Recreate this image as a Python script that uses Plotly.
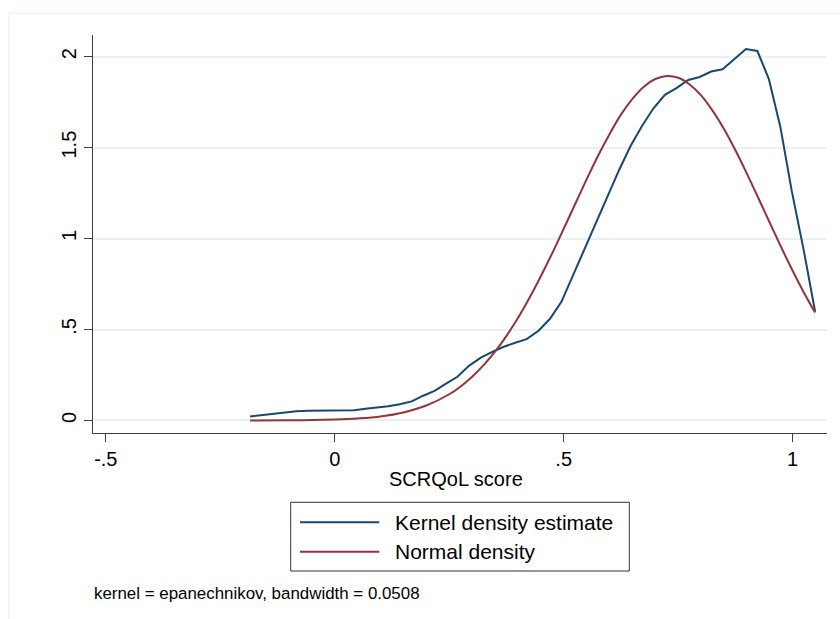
import plotly.graph_objects as go

# ---- data ----
kde_x = [-0.185, -0.160, -0.135, -0.109, -0.084, -0.059, -0.034, -0.009, 0.016, 0.042,
         0.067, 0.092, 0.117, 0.142, 0.168, 0.193, 0.218, 0.243, 0.268, 0.293,
         0.319, 0.344, 0.369, 0.394, 0.419, 0.445, 0.470, 0.495, 0.520, 0.545,
         0.570, 0.596, 0.621, 0.646, 0.671, 0.696, 0.721, 0.747, 0.772, 0.797,
         0.822, 0.847, 0.873, 0.898, 0.923, 0.948, 0.973, 0.998, 1.024, 1.049]
kde_y = [0.022, 0.029, 0.037, 0.045, 0.050, 0.053, 0.053, 0.052, 0.052, 0.056,
         0.064, 0.070, 0.078, 0.089, 0.105, 0.136, 0.163, 0.202, 0.240, 0.300,
         0.345, 0.377, 0.405, 0.427, 0.447, 0.493, 0.559, 0.652, 0.795, 0.938,
         1.080, 1.229, 1.377, 1.509, 1.619, 1.716, 1.790, 1.828, 1.872, 1.888,
         1.918, 1.931, 1.987, 2.042, 2.031, 1.877, 1.615, 1.262, 0.938, 0.599]

norm_x = [-0.185, -0.100, -0.050, 0.000, 0.050, 0.100, 0.150, 0.200, 0.250, 0.275,
          0.300, 0.325, 0.350, 0.375, 0.400, 0.425, 0.450, 0.475, 0.500, 0.525,
          0.550, 0.575, 0.600, 0.625, 0.650, 0.675, 0.700, 0.725, 0.750, 0.775,
          0.800, 0.825, 0.850, 0.875, 0.900, 0.925, 0.950, 0.975, 1.000, 1.025, 1.049]
norm_y = [0.000, 0.001, 0.002, 0.005, 0.011, 0.022, 0.044, 0.082, 0.144, 0.187,
          0.240, 0.304, 0.378, 0.465, 0.563, 0.673, 0.793, 0.920, 1.054, 1.190,
          1.325, 1.455, 1.574, 1.681, 1.768, 1.835, 1.877, 1.894, 1.884, 1.847,
          1.787, 1.703, 1.602, 1.485, 1.357, 1.223, 1.087, 0.952, 0.823, 0.701, 0.593]

x_ticks = [-0.5, 0, 0.5, 1]
x_tick_labels = ["-.5", "0", ".5", "1"]
y_ticks = [0, 0.5, 1, 1.5, 2]
y_tick_labels = ["0", ".5", "1", "1.5", "2"]

series_names = ["Kernel density estimate", "Normal density"]
series_colors = ["#1a476f", "#90353b"]
x_title = "SCRQoL score"
note_text = "kernel = epanechnikov, bandwidth = 0.0508"

FONT = "Liberation Sans, Arial, Helvetica, sans-serif"
W, H = 840, 619
ML, MR, MT, MB = 93, 13, 35, 186
PW, PH = W - ML - MR, H - MT - MB
PB = H - MB  # plot bottom in px


def px(xp):
    return (xp - ML) / PW


def py(yp):
    return (PB - yp) / PH


fig = go.Figure()
fig.add_trace(go.Scatter(x=kde_x, y=kde_y, mode="lines", name=series_names[0],
                         line=dict(color=series_colors[0], width=2), showlegend=False))
fig.add_trace(go.Scatter(x=norm_x, y=norm_y, mode="lines", name=series_names[1],
                         line=dict(color=series_colors[1], width=2, shape="spline"),
                         showlegend=False))

shapes = []
# faint outer graph-region border
shapes.append(dict(type="rect", xref="paper", yref="paper",
                   x0=px(9), x1=px(880), y0=py(660), y1=py(13.3),
                   line=dict(color="#e9eff1", width=1), fillcolor="rgba(0,0,0,0)", layer="below"))
# legend box
shapes.append(dict(type="rect", xref="paper", yref="paper",
                   x0=px(290.7), x1=px(629.3), y0=py(571), y1=py(502.3),
                   line=dict(color="#333333", width=1), fillcolor="white"))
row_y = [522.3, 551.7]
annotations = []
for i in range(2):
    shapes.append(dict(type="line", xref="paper", yref="paper",
                       x0=px(300), x1=px(379.3), y0=py(row_y[i]), y1=py(row_y[i]),
                       line=dict(color=series_colors[i], width=2)))
    annotations.append(dict(xref="paper", yref="paper", x=px(392.7), y=py(row_y[i]),
                            text=series_names[i], showarrow=False, xanchor="left",
                            yanchor="middle", font=dict(family=FONT, size=21, color="black")))

annotations.append(dict(xref="paper", yref="paper", x=px(456), y=py(479.5), text=x_title,
                        showarrow=False, xanchor="center", yanchor="middle",
                        font=dict(family=FONT, size=20, color="black")))
annotations.append(dict(xref="paper", yref="paper", x=px(92), y=py(593.5), text=note_text,
                        showarrow=False, xanchor="left", yanchor="middle",
                        font=dict(family=FONT, size=16.9, color="black")))

fig.update_layout(
    width=W, height=H,
    margin=dict(l=ML, r=MR, t=MT, b=MB, pad=0),
    paper_bgcolor="white", plot_bgcolor="white",
    font=dict(family=FONT, size=20, color="black"),
    shapes=shapes, annotations=annotations,
    showlegend=False,
)
fig.update_xaxes(range=[-0.528, 1.075], tickvals=x_ticks, ticktext=x_tick_labels,
                 showgrid=False, zeroline=False, showline=True, linecolor="#404040",
                 linewidth=1, ticks="outside", ticklen=8, tickcolor="#404040", tickwidth=1,
                 tickfont=dict(family=FONT, size=20, color="black"))
fig.update_yaxes(range=[-0.069, 2.119], tickvals=y_ticks, ticktext=y_tick_labels,
                 showgrid=True, gridcolor="#eaf0f2", gridwidth=1.5, zeroline=False,
                 showline=True, linecolor="#404040", linewidth=1, ticks="outside",
                 ticklen=8, tickcolor="#404040", tickwidth=1, tickangle=-90,
                 tickfont=dict(family=FONT, size=20, color="black"))

fig.write_html("out.html",
               config={"displayModeBar": False},
               post_script="document.body.style.margin='0';document.body.style.padding='0';")
